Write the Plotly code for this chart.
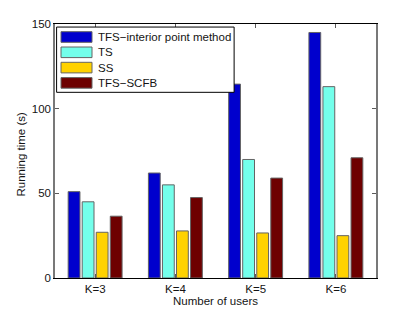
import plotly.graph_objects as go

categories = ["K=3", "K=4", "K=5", "K=6"]
series_names = ["TFS\u2212interior point method", "TS", "SS", "TFS\u2212SCFB"]
tfs_ipm = [51, 62, 114.5, 145]
ts = [45, 55, 70, 113]
ss = [27, 27.8, 26.6, 25]
tfs_scfb = [36.5, 47.5, 59, 71]
y_ticks = [0, 50, 100, 150]

colors = ["rgb(0,0,205)", "rgb(115,255,235)", "rgb(255,210,0)", "rgb(110,0,0)"]
values = [tfs_ipm, ts, ss, tfs_scfb]

FONT = "Liberation Sans, Arial, Helvetica, sans-serif"
FS = 11.5

fig = go.Figure()
for name, vals, col in zip(series_names, values, colors):
    fig.add_trace(go.Bar(
        x=categories, y=vals, name=name,
        marker=dict(color=col, line=dict(color="rgb(100,100,100)", width=1)),
        showlegend=False,
    ))

# custom MATLAB-style legend (plot area: 321 x 254 px)
shapes = [dict(type="rect", xref="paper", yref="paper",
               x0=0.005, x1=0.558, y0=0.731, y1=0.988,
               line=dict(color="black", width=1), fillcolor="white", layer="above")]
annotations = []
row_h = 15.3 / 254
y_first = (278 - 37) / 254
for i, (name, col) in enumerate(zip(series_names, colors)):
    yc = y_first - i * row_h
    shapes.append(dict(type="rect", xref="paper", yref="paper",
                       x0=(61 - 55) / 321, x1=(92 - 55) / 321,
                       y0=yc - 5.3 / 254, y1=yc + 5.3 / 254,
                       line=dict(color="rgb(100,100,100)", width=1),
                       fillcolor=col, layer="above"))
    annotations.append(dict(xref="paper", yref="paper", x=(95.5 - 55) / 321, y=yc,
                            xanchor="left", yanchor="middle", text=name, showarrow=False,
                            font=dict(size=FS, color="rgb(20,20,20)", family=FONT)))

# y-axis title as rotated annotation
annotations.append(dict(xref="paper", yref="paper", x=(21.5 - 55) / 321, y=0.488,
                        xanchor="center", yanchor="middle", textangle=-90,
                        text="Running time (s)", showarrow=False,
                        font=dict(size=FS, color="rgb(20,20,20)", family=FONT)))

# page body has an 8px default margin, so the figure is 407x305 and offset
fig.update_layout(
    width=407, height=305,
    margin=dict(l=47, r=39, t=16, b=35),
    paper_bgcolor="white", plot_bgcolor="white",
    barmode="group", bargap=0.3, bargroupgap=0.16,
    font=dict(family=FONT, size=FS, color="rgb(20,20,20)"),
    shapes=shapes, annotations=annotations,
)
fig.update_xaxes(
    range=[-0.5, 3.5], showgrid=False, showline=True, linecolor="black", linewidth=1,
    mirror="ticks", ticks="inside", ticklen=4, tickcolor="rgb(90,90,90)",
    title=dict(text="Number of users", standoff=1, font=dict(size=FS)),
    tickfont=dict(size=FS), automargin=False,
)
fig.update_yaxes(
    range=[0, 150], tickvals=y_ticks, showgrid=False, zeroline=False,
    showline=True, linecolor="rgb(120,120,120)", linewidth=1.5,
    mirror="ticks", ticks="inside", ticklen=4, tickcolor="rgb(90,90,90)",
    tickfont=dict(size=FS), automargin=False,
)

fig.write_html("out.html")
